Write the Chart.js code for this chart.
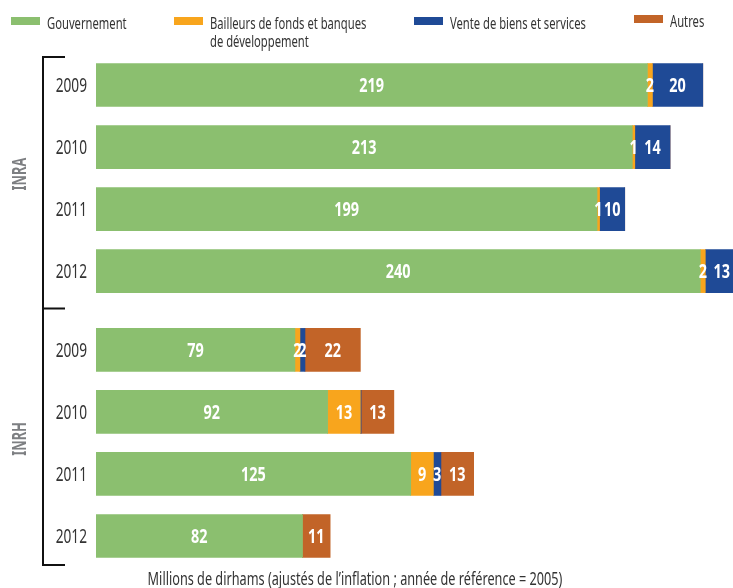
<!DOCTYPE html>
<html>
<head>
<meta charset="utf-8">
<script src="https://cdn.jsdelivr.net/npm/chart.js@4/dist/chart.umd.min.js"></script>
<style>
  html, body { margin: 0; padding: 0; background: #fff; }
  #wrap { width: 733px; height: 588px; }
</style>
</head>
<body>
<div id="wrap"><canvas id="chart"></canvas></div>
<script>
// Data
const years = ["2009", "2010", "2011", "2012", "2009", "2010", "2011", "2012"];
const institutions = ["INRA", "INRH"];
const gouvernement = [219, 213, 199, 240, 79, 92, 125, 82];
const bailleurs = [2, 1, 1, 2, 2, 13, 9, 0];
const vente = [20, 14, 10, 13, 2, 0.3, 3, 0];
const autres = [0, 0, 0, 0, 22, 13, 13, 11];
const xTitle = "Millions de dirhams (ajustés de l\u2019inflation ; année de référence = 2005)";

const FONT = "'Noto Sans', 'DejaVu Sans', sans-serif";
const groupGap = 0.27; // extra space between INRA and INRH
const rowPos = years.map((y, i) => i + (i >= 4 ? groupGap : 0));

function series(values) {
  return values.map((v, i) => ({ x: v, y: rowPos[i] }));
}

// the original uses a condensed face, so squeeze the text horizontally
function condensedText(ctx, text, x, y, font, sx, align) {
  ctx.save();
  ctx.font = font;
  ctx.textAlign = align || "left";
  ctx.textBaseline = "alphabetic";
  ctx.translate(x, y);
  ctx.scale(sx, 1);
  ctx.fillText(text, 0, 0);
  ctx.restore();
}

// white numbers in the middle of each segment
const valueLabels = {
  id: "valueLabels",
  afterDatasetsDraw(chart) {
    const ctx = chart.ctx;
    ctx.fillStyle = "#fff";
    chart.data.datasets.forEach((ds, d) => {
      chart.getDatasetMeta(d).data.forEach((bar, i) => {
        const v = ds.data[i].x;
        if (v < 1) return;
        const p = bar.getCenterPoint();
        condensedText(ctx, String(Math.round(v)), p.x, p.y + 7, "bold 19px " + FONT, 0.76, "center");
      });
    });
  }
};

// legend, years, brackets, group names and axis title
const decorations = {
  id: "decorations",
  afterDraw(chart) {
    const ctx = chart.ctx;
    const y = chart.scales.y;
    ctx.save();

    // legend
    const legendX = [11, 174, 414, 634];
    chart.data.datasets.forEach((ds, d) => {
      const lines = [].concat(ds.label);
      const shift = d === 3 ? -2 : 0;
      ctx.fillStyle = ds.backgroundColor;
      ctx.fillRect(legendX[d], 17 + shift, 29, 8);
      ctx.fillStyle = "#333";
      lines.forEach((t, k) =>
        condensedText(ctx, t, legendX[d] + 36, 29 + shift + k * 18, "17px " + FONT, 0.66));
    });

    // years
    ctx.fillStyle = "#333";
    years.forEach((yr, i) => {
      condensedText(ctx, yr, 87, y.getPixelForValue(rowPos[i]) + 7, "19px " + FONT, 0.72, "right");
    });

    // brackets
    const first = y.getPixelForValue(rowPos[0]);
    const last = y.getPixelForValue(rowPos[7]);
    const mid = (y.getPixelForValue(rowPos[3]) + y.getPixelForValue(rowPos[4])) / 2 - 2;
    const top = first - 28, bot = last + 29;
    ctx.strokeStyle = "#111";
    ctx.lineWidth = 2;
    ctx.beginPath();
    ctx.moveTo(65, top); ctx.lineTo(43, top); ctx.lineTo(43, bot); ctx.lineTo(65, bot);
    ctx.moveTo(43, mid); ctx.lineTo(65, mid);
    ctx.stroke();

    // group names
    ctx.fillStyle = "#7d7f82";
    institutions.forEach((name, g) => {
      const a = y.getPixelForValue(rowPos[g * 4]);
      const b = y.getPixelForValue(rowPos[g * 4 + 3]);
      ctx.save();
      ctx.translate(26, (a + b) / 2 - 4);
      ctx.rotate(-Math.PI / 2);
      condensedText(ctx, name, 0, 0, "bold 20px " + FONT, 0.64, "center");
      ctx.restore();
    });

    // axis title
    ctx.fillStyle = "#333";
    condensedText(ctx, xTitle, 355, 585, "18px " + FONT, 0.705, "center");
    ctx.restore();
  }
};

new Chart(document.getElementById("chart"), {
  type: "bar",
  data: {
    datasets: [
      { label: "Gouvernement", data: series(gouvernement), backgroundColor: "#8bbf6f" },
      { label: ["Bailleurs de fonds et banques", "de développement"], data: series(bailleurs), backgroundColor: "#f8a51d" },
      { label: "Vente de biens et services", data: series(vente), backgroundColor: "#1f4a96" },
      { label: "Autres", data: series(autres), backgroundColor: "#c26428" }
    ]
  },
  options: {
    indexAxis: "y",
    responsive: true,
    maintainAspectRatio: false,
    animation: false,
    barThickness: 43,
    layout: { padding: { top: 54, bottom: 21, left: 96, right: 0 } },
    plugins: { legend: { display: false }, tooltip: { enabled: false } },
    scales: {
      x: { stacked: true, display: false, min: 0, max: 253 },
      y: {
        type: "linear",
        stacked: true,
        reverse: true,
        display: false,
        offset: false,
        min: -0.5,
        max: rowPos[7] + 0.5
      }
    }
  },
  plugins: [valueLabels, decorations]
});
</script>
</body>
</html>
